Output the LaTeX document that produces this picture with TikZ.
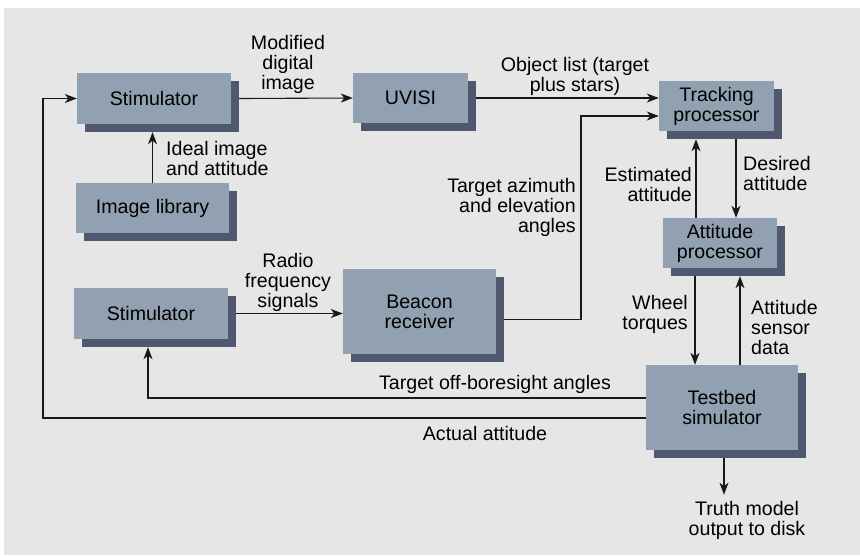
\documentclass[tikz,border=0pt]{standalone}
\usepackage{fontspec}
\setmainfont{Liberation Sans}
\usetikzlibrary{arrows.meta,shadows}
\definecolor{bgc}{RGB}{230,230,230}
\definecolor{facec}{RGB}{146,161,178}
\definecolor{shadc}{RGB}{79,88,110}
\begin{document}
\begin{tikzpicture}[x=1pt,y=-1pt, font=\fontsize{19.6}{20}\selectfont,
 blk/.style={fill=facec, inner sep=0pt, align=center, drop shadow={shadow xshift=8pt,shadow yshift=-8pt,fill=shadc,opacity=1}},
 lbl/.style={inner sep=0pt, align=center},
 arr/.style={line width=1.1pt, draw=black!90, -{Stealth[length=12pt,width=9pt,inset=3.5pt]}}]
\useasboundingbox (0,0) rectangle (860,555);
\fill[bgc] (4,8) rectangle (860,555);
% boxes
\node[blk, minimum width=154pt, minimum height=51pt] (s1) at (154,98.5) {Stimulator};
\node[blk, minimum width=153pt, minimum height=50pt] (il) at (152.5,208) {Image library};
\node[blk, minimum width=115pt, minimum height=50pt] (uv) at (410.5,98) {UVISI};
\node[blk, minimum width=115pt, minimum height=50pt] (tp) at (716.5,106) {Tracking\\processor};
\node[blk, minimum width=114pt, minimum height=50pt] (ap) at (720,243) {Attitude\\processor};
\node[blk, minimum width=154pt, minimum height=51pt] (s2) at (151,313.5) {Stimulator};
\node[blk, minimum width=153pt, minimum height=85pt] (br) at (419.5,311.5) {Beacon\\receiver};
\node[blk, minimum width=152pt, minimum height=85pt] (tb) at (722,407.5) {Testbed\\simulator};
% labels
\node[lbl] (lmod) at (288,64) {Modified\\digital\\image};
\node[lbl, anchor=west, align=left] (lideal) at (166,158) {Ideal image\\and attitude};
\node[lbl] (lobj) at (575,76) {Object list (target\\plus stars)};
\node[lbl, anchor=east, align=right] (laz) at (576,207) {Target azimuth\\and elevation\\angles};
\node[lbl, anchor=east, align=right] (lest) at (692,184) {Estimated\\attitude};
\node[lbl, anchor=west, align=left] (ldes) at (743,173) {Desired\\attitude};
\node[lbl] (lrf) at (288,282) {Radio\\frequency\\signals};
\node[lbl, anchor=east, align=right] (lwh) at (688,314) {Wheel\\torques};
\node[lbl, anchor=west, align=left] (lsen) at (751,327) {Attitude\\sensor\\data};
\node[lbl] (loff) at (495,384) {Target off-boresight angles};
\node[lbl] (lact) at (485,433) {Actual attitude};
\node[lbl, inner ysep=6pt] (truth) at (747,520) {Truth model\\output to disk};
% connectors
\coordinate (s1b) at ([yshift=-8pt]s1.south);
\draw[arr] (il.north) -- (il.north |- s1b);
\draw[arr] ([xshift=8pt]s1.east) -- (uv.west);
\draw[arr] ([xshift=8pt]uv.east) -- (uv.east -| tp.west);
\coordinate (bs) at ([shift={(8pt,-8pt)}]br.east);
\coordinate (bx) at (581,319);
\coordinate (tpw) at ([yshift=-10pt]tp.west);
\draw[arr] (bs) -- (bs -| bx) |- (tpw);
\coordinate (d1) at ([shift={(19.5pt,-8pt)}]tp.south);
\draw[arr] (d1) -- (d1 |- ap.north);
\coordinate (e1) at ([xshift=-24pt]ap.north);
\coordinate (tpb) at ([yshift=-8pt]tp.south);
\draw[arr] (e1) -- (e1 |- tpb);
\coordinate (w1) at ([shift={(-25pt,-8pt)}]ap.south);
\draw[arr] (w1) -- (w1 |- tb.north);
\coordinate (sc) at ([xshift=18pt]tb.north);
\coordinate (apb) at ([yshift=-8pt]ap.south);
\draw[arr] (sc) -- (sc |- apb);
\draw[arr] ([xshift=8pt]s2.east) -- (s2.east -| br.west);
\coordinate (ob) at ([shift={(-3pt,-8pt)}]s2.south);
\draw[arr] ([yshift=9.5pt]tb.west) -| (ob);
\coordinate (lx) at (43,418);
\draw[arr] ([yshift=-10.5pt]tb.west) -- (lx) |- (s1.west);
\coordinate (tbb) at ([shift={(2pt,-8pt)}]tb.south);
\draw[arr] (tbb) -- (tbb |- truth.north);
\end{tikzpicture}
\end{document}
